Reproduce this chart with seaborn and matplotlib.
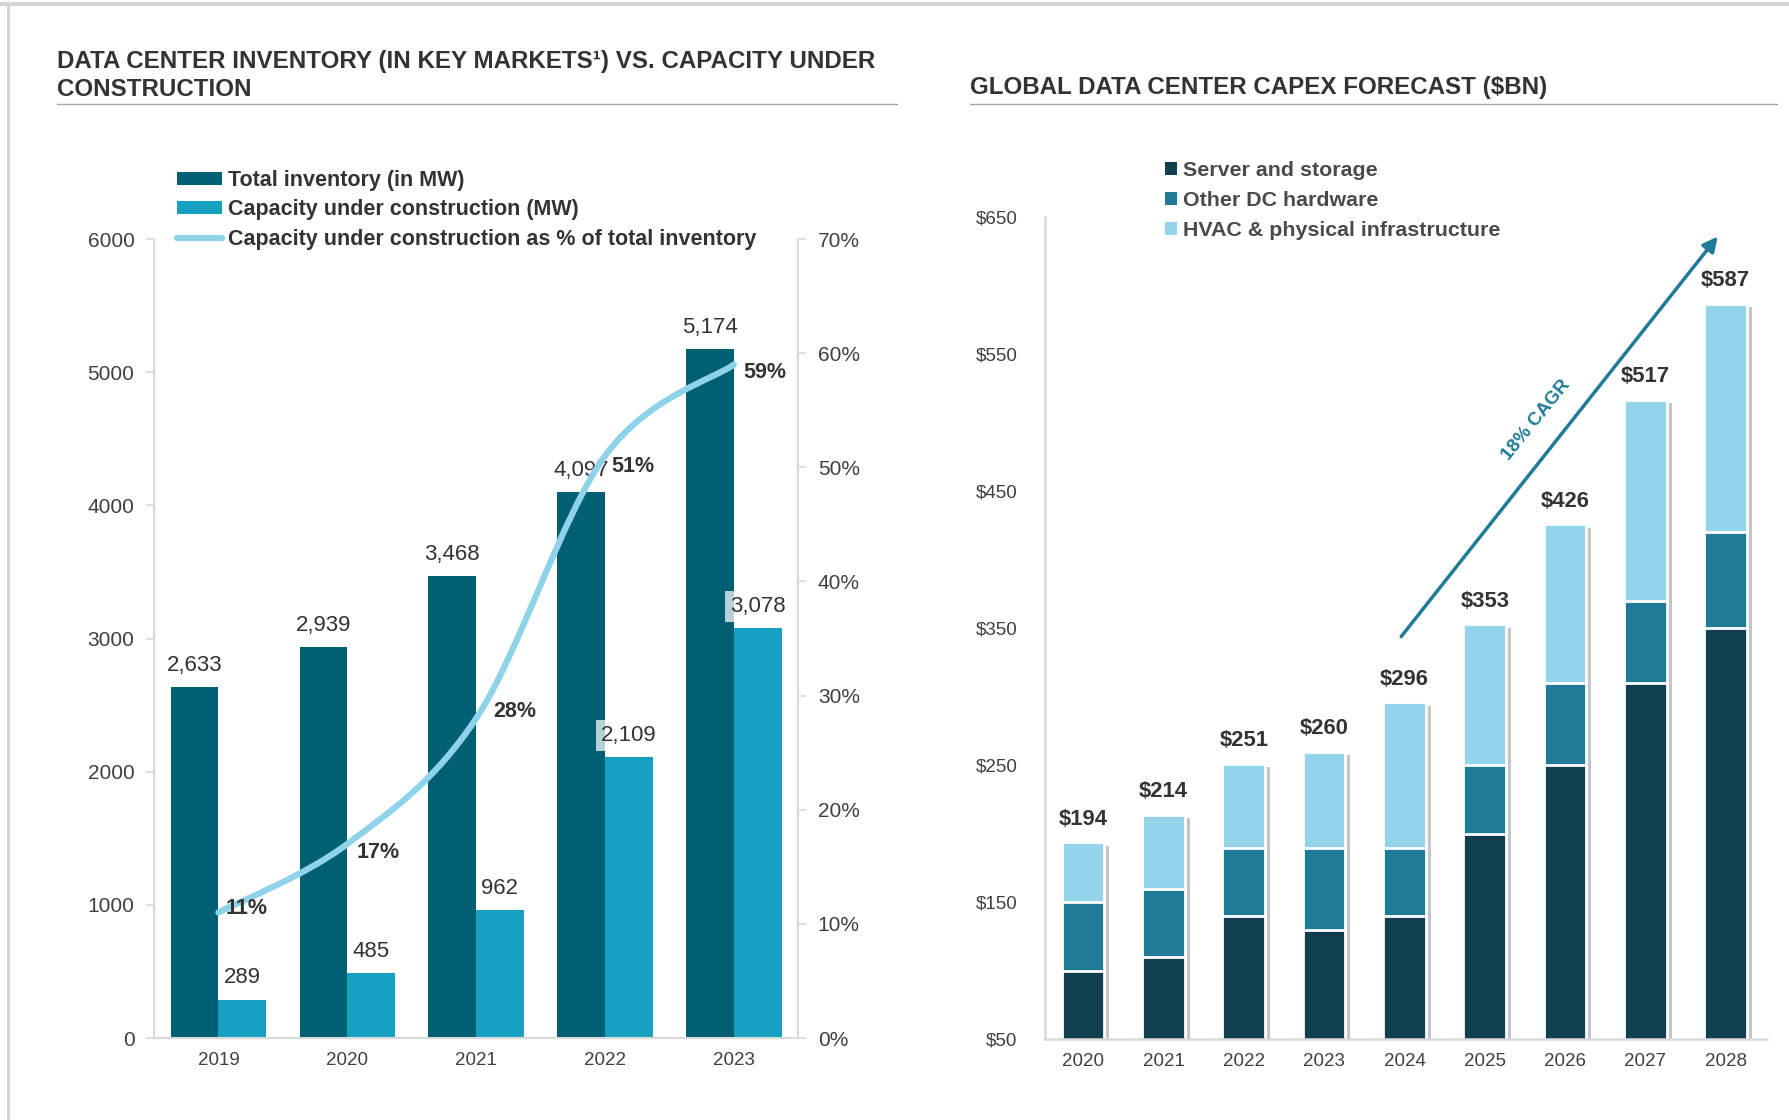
import numpy as np
import pandas as pd
import matplotlib
matplotlib.use("Agg")
import matplotlib.pyplot as plt
import seaborn as sns
from matplotlib.path import Path
from matplotlib.patches import PathPatch, Patch
from matplotlib.lines import Line2D
import matplotlib.patheffects as pe
from matplotlib.ticker import FuncFormatter

# ---------------- data ----------------
years_left = ["2019", "2020", "2021", "2022", "2023"]
total_inventory = [2633, 2939, 3468, 4097, 5174]
under_construction = [289, 485, 962, 2109, 3078]
pct_of_inventory = [11, 17, 28, 51, 59]

years_right = ["2020", "2021", "2022", "2023", "2024", "2025", "2026", "2027", "2028"]
server_storage = [100, 110, 140, 130, 140, 200, 250, 310, 350]
other_hw = [50, 50, 50, 60, 50, 50, 60, 60, 70]
hvac_infra = [44, 54, 61, 70, 106, 103, 116, 147, 167]
capex_total = [194, 214, 251, 260, 296, 353, 426, 517, 587]

left_labels = ["Total inventory (in MW)", "Capacity under construction (MW)",
               "Capacity under construction as % of total inventory"]
right_labels = ["Server and storage", "Other DC hardware", "HVAC & physical infrastructure"]

# ---------------- style ----------------
sns.set_theme(style="white")
plt.rcParams["font.family"] = ["Liberation Sans", "DejaVu Sans"]

C_DARK = "#005F72"
C_LIGHT = "#16A1C3"
C_LINE = "#8FD3EA"
C_SRV = "#103F4E"
C_OTH = "#1F7B97"
C_HVAC = "#94D5EB"
C_TXT = "#333333"
C_TICK = "#404040"
C_SPINE = "#D9D9D9"

fig = plt.figure(figsize=(17.9, 11.2), dpi=100)
fig.patch.set_facecolor("white")

# screenshot frame lines
fig.add_artist(Line2D([0, 1], [0.9965, 0.9965], transform=fig.transFigure, color="#D5D5D5", lw=3))
fig.add_artist(Line2D([0.0042, 0.0042], [0.0, 0.9965], transform=fig.transFigure, color="#D5D5D5", lw=2.2))

# titles
fig.text(0.032, 0.9555, "DATA CENTER INVENTORY (IN KEY MARKETS\u00b9) VS. CAPACITY UNDER\nCONSTRUCTION",
         ha="left", va="top", fontsize=17.4, fontweight="bold", color=C_TXT, linespacing=1.28)
fig.add_artist(Line2D([0.032, 0.501], [0.907, 0.907], transform=fig.transFigure, color="#A6A6A6", lw=1))
fig.text(0.542, 0.922, "GLOBAL DATA CENTER CAPEX FORECAST ($BN)",
         ha="left", va="center", fontsize=17.4, fontweight="bold", color=C_TXT)
fig.add_artist(Line2D([0.542, 0.993], [0.907, 0.907], transform=fig.transFigure, color="#A6A6A6", lw=1))

# ---------------- left chart ----------------
ax1 = fig.add_axes([0.086, 0.0732, 0.36, 0.7134])
df_left = pd.DataFrame({
    "year": years_left * 2,
    "value": total_inventory + under_construction,
    "series": [left_labels[0]] * len(years_left) + [left_labels[1]] * len(years_left),
})
sns.barplot(data=df_left, x="year", y="value", hue="series", palette=[C_DARK, C_LIGHT],
            width=0.74, gap=0, saturation=1, linewidth=0, ax=ax1, legend=False)
ax1.set_xlim(-0.5, 4.5)
ax1.set_ylim(0, 6000)
ax1.set_yticks(np.arange(0, 6001, 1000))
ax1.set_xlabel("")
ax1.set_ylabel("")
for s in ["top", "right"]:
    ax1.spines[s].set_visible(False)
for s in ["left", "bottom"]:
    ax1.spines[s].set_color(C_SPINE)
    ax1.spines[s].set_linewidth(1.5)
ax1.tick_params(axis="y", direction="out", length=6, width=1.2, color=C_SPINE,
                labelsize=15, labelcolor=C_TICK, pad=8, left=True)
ax1.tick_params(axis="x", length=0, labelsize=13.5, labelcolor=C_TICK, pad=10)
ax1.grid(False)

for bar in ax1.containers[0]:
    x = bar.get_x() + bar.get_width() / 2
    h = bar.get_height()
    ax1.annotate(f"{int(h):,}", (x, h), xytext=(0, 8), textcoords="offset points",
                 ha="center", va="bottom", fontsize=16, color=C_TXT)
for bar in ax1.containers[1]:
    x = bar.get_x() + bar.get_width() / 2
    h = bar.get_height()
    ax1.annotate(f"{int(h):,}", (x, h), xytext=(0, 8), textcoords="offset points",
                 ha="center", va="bottom", fontsize=16, color=C_TXT,
                 bbox=dict(boxstyle="square,pad=0.22", fc="white", ec="none", alpha=0.72))

ax1b = ax1.twinx()
ax1b.set_ylim(0, 0.70)
ax1b.set_yticks(np.arange(0, 0.701, 0.10))
ax1b.yaxis.set_major_formatter(FuncFormatter(lambda v, p: f"{v*100:.0f}%"))
for s in ["top", "left", "bottom"]:
    ax1b.spines[s].set_visible(False)
ax1b.spines["right"].set_color(C_SPINE)
ax1b.spines["right"].set_linewidth(1.5)
ax1b.tick_params(axis="y", direction="out", length=6, width=1.2, color=C_SPINE,
                 labelsize=15, labelcolor=C_TICK, pad=8)
ax1b.grid(False)

# smooth curve through the percentage points (Catmull-Rom as cubic Bezier)
P = np.column_stack([np.arange(len(years_left)), np.array(pct_of_inventory) / 100.0])
n = len(P)
verts = [P[0]]
codes = [Path.MOVETO]
for i in range(n - 1):
    p0 = P[max(i - 1, 0)]
    p1 = P[i]
    p2 = P[i + 1]
    p3 = P[min(i + 2, n - 1)]
    c1 = p1 + (p2 - p0) / 6.0
    c2 = p2 - (p3 - p1) / 6.0
    verts += [c1, c2, p2]
    codes += [Path.CURVE4] * 3
ax1b.add_patch(PathPatch(Path(verts, codes), fc="none", ec=C_LINE, lw=4.5, capstyle="round", zorder=3))
pct_offsets = [(20, 3), (22, -6), (28, 5), (20, -8), (22, -6)]
for (x, y), off in zip(P, pct_offsets):
    ax1b.annotate(f"{y*100:.0f}%", (x, y), xytext=off, textcoords="offset points",
                  ha="center", va="center", fontsize=15.5, fontweight="bold", color=C_TXT, zorder=4)

left_handles = [Patch(fc=C_DARK, ec="none"), Patch(fc=C_LIGHT, ec="none"),
                Line2D([0], [0], color=C_LINE, lw=4.5)]
fig.legend(left_handles, left_labels, loc="upper left", bbox_to_anchor=(0.099, 0.848),
           frameon=False, handlelength=2.1, handleheight=0.55, handletextpad=0.25,
           labelspacing=0.38, borderaxespad=0, borderpad=0,
           prop={"weight": "bold", "size": 15.5}, labelcolor=C_TXT)

# ---------------- right chart ----------------
ax2 = fig.add_axes([0.584, 0.072, 0.403, 0.734])
df_right = pd.DataFrame({
    "year": years_right,
    "server": server_storage,
    "other": other_hw,
    "hvac": hvac_infra,
})
df_right["lvl2"] = df_right["server"] + df_right["other"]
df_right["lvl3"] = df_right["lvl2"] + df_right["hvac"]

sns.barplot(data=df_right, x="year", y="lvl3", color=C_HVAC, saturation=1, width=0.53,
            edgecolor="white", linewidth=2, ax=ax2)
for bar in ax2.containers[0]:
    bar.set_path_effects([pe.SimplePatchShadow(offset=(3.5, -2.5), shadow_rgbFace="#7F7F7F", alpha=0.45),
                          pe.Normal()])
sns.barplot(data=df_right, x="year", y="lvl2", color=C_OTH, saturation=1, width=0.53,
            edgecolor="white", linewidth=2, ax=ax2)
sns.barplot(data=df_right, x="year", y="server", color=C_SRV, saturation=1, width=0.53,
            edgecolor="white", linewidth=2, ax=ax2)

ax2.set_ylim(50, 650)
ax2.set_yticks(np.arange(50, 651, 100))
ax2.yaxis.set_major_formatter(FuncFormatter(lambda v, p: f"${v:.0f}"))
ax2.set_xlim(-0.47, 8.51)
ax2.set_xlabel("")
ax2.set_ylabel("")
for s in ["top", "right"]:
    ax2.spines[s].set_visible(False)
for s in ["left", "bottom"]:
    ax2.spines[s].set_color(C_SPINE)
    ax2.spines[s].set_linewidth(1.8)
ax2.tick_params(axis="y", length=0, labelsize=13.5, labelcolor=C_TICK, pad=20)
ax2.tick_params(axis="x", length=0, labelsize=13.5, labelcolor=C_TICK, pad=10)
ax2.grid(False)

for i, tot in enumerate(capex_total):
    ax2.annotate(f"${tot}", (i, tot), xytext=(0, 9), textcoords="offset points",
                 ha="center", va="bottom", fontsize=15.8, fontweight="bold", color=C_TXT)

ax2.annotate("", xy=(7.9, 636), xytext=(3.96, 344),
             arrowprops=dict(arrowstyle="-|>", color=C_OTH, lw=2.5, mutation_scale=22,
                             shrinkA=0, shrinkB=0))
ax2.text(5.64, 502, "18% CAGR", rotation=51, ha="center", va="center",
         fontsize=13.5, fontweight="bold", color=C_OTH)

right_handles = [Patch(fc=C_SRV, ec="none"), Patch(fc=C_OTH, ec="none"), Patch(fc=C_HVAC, ec="none")]
fig.legend(right_handles, right_labels, loc="upper left", bbox_to_anchor=(0.651, 0.856),
           frameon=False, handlelength=0.55, handleheight=0.55, handletextpad=0.3,
           labelspacing=0.5, borderaxespad=0, borderpad=0,
           prop={"weight": "bold", "size": 15.4}, labelcolor="#4A4A4A")

fig.savefig("out.png", dpi=100, facecolor="white")
